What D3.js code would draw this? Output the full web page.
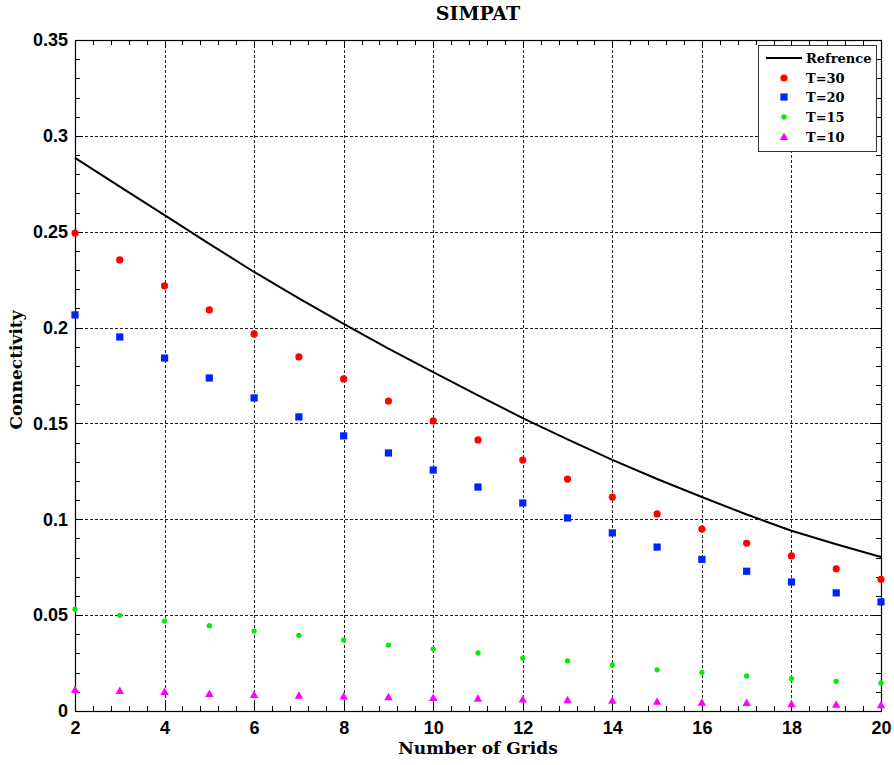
<!DOCTYPE html>
<html>
<head>
<meta charset="utf-8">
<script src="https://cdn.jsdelivr.net/npm/d3@7"></script>
<style>
  html, body { margin: 0; padding: 0; background: #fff; }
  svg { display: block; }
  .tick-label { font-family: "Liberation Sans", Arial, sans-serif; font-weight: bold; font-size: 18px; fill: #000; }
  .serif { font-family: "DejaVu Serif", "Liberation Serif", serif; font-weight: bold; fill: #000; }
</style>
</head>
<body>
<svg id="chart" width="894" height="765"></svg>
<script>
// Number of grids (x values)
const grids = [2, 3, 4, 5, 6, 7, 8, 9, 10, 11, 12, 13, 14, 15, 16, 17, 18, 19, 20];

// Reference connectivity curve
const reference = [0.2885, 0.2735, 0.2587, 0.2437, 0.2290, 0.2152, 0.2019, 0.1890, 0.1768, 0.1646,
                   0.1528, 0.1417, 0.1310, 0.1210, 0.1116, 0.1025, 0.0940, 0.0870, 0.0803];

// Simulated connectivity for each T
const t30 = [0.2493, 0.2353, 0.2217, 0.2092, 0.1967, 0.1847, 0.1732, 0.1617, 0.1513, 0.1414,
             0.1309, 0.1210, 0.1116, 0.1028, 0.0949, 0.0875, 0.0809, 0.0742, 0.0687];
const t20 = [0.2066, 0.1951, 0.1841, 0.1737, 0.1633, 0.1534, 0.1435, 0.1346, 0.1257, 0.1168,
             0.1085, 0.1007, 0.0929, 0.0855, 0.0791, 0.0729, 0.0673, 0.0616, 0.0569];
const t15 = [0.0531, 0.0499, 0.0469, 0.0445, 0.0417, 0.0395, 0.0370, 0.0344, 0.0323, 0.0303,
             0.0276, 0.0261, 0.0240, 0.0215, 0.0202, 0.0183, 0.0169, 0.0155, 0.0146];
const t10 = [0.0110, 0.0104, 0.0099, 0.0089, 0.0083, 0.0080, 0.0076, 0.0072, 0.0068, 0.0064,
             0.0060, 0.0056, 0.0053, 0.0048, 0.0043, 0.0042, 0.0035, 0.0033, 0.0030];

// Tick values
const xTicks = [2, 4, 6, 8, 10, 12, 14, 16, 18, 20];
const yTicks = [0, 0.05, 0.1, 0.15, 0.2, 0.25, 0.3, 0.35];
const yTickLabels = ["0", "0.05", "0.1", "0.15", "0.2", "0.25", "0.3", "0.35"];

const svg = d3.select("#chart");
const pLeft = 75, pRight = 881, pTop = 40, pBottom = 711;

const x = d3.scaleLinear().domain([2, 20]).range([pLeft, pRight]);
const y = d3.scaleLinear().domain([0, 0.35]).range([pBottom, pTop]);

// Grid lines at major ticks
const grid = svg.append("g").attr("stroke", "#222").attr("stroke-width", 1)
  .attr("stroke-dasharray", "3,2").attr("shape-rendering", "crispEdges");
xTicks.slice(1, -1).forEach(v => {
  grid.append("line").attr("x1", Math.round(x(v)) + 0.5).attr("x2", Math.round(x(v)) + 0.5)
    .attr("y1", pTop).attr("y2", pBottom);
});
yTicks.slice(1, -1).forEach(v => {
  grid.append("line").attr("y1", Math.round(y(v)) + 0.5).attr("y2", Math.round(y(v)) + 0.5)
    .attr("x1", pLeft).attr("x2", pRight);
});

// Minor + major ticks on all four sides, pointing inward
const tk = svg.append("g").attr("stroke", "#000").attr("stroke-width", 1).attr("shape-rendering", "crispEdges");
const xMinor = d3.range(2, 20.001, 0.4);
xMinor.forEach(v => {
  const major = Math.abs(v - Math.round(v)) < 1e-6 && Math.round(v) % 2 === 0;
  const len = major ? 8 : 5;
  const px = Math.round(x(v)) + 0.5;
  tk.append("line").attr("x1", px).attr("x2", px).attr("y1", pBottom).attr("y2", pBottom - len);
  tk.append("line").attr("x1", px).attr("x2", px).attr("y1", pTop).attr("y2", pTop + len);
});
const yMinor = d3.range(0, 0.35001, 0.01);
yMinor.forEach((v, i) => {
  const major = i % 5 === 0;
  const len = major ? 8 : 5;
  const py = Math.round(y(v)) + 0.5;
  tk.append("line").attr("y1", py).attr("y2", py).attr("x1", pLeft).attr("x2", pLeft + len);
  tk.append("line").attr("y1", py).attr("y2", py).attr("x1", pRight).attr("x2", pRight - len);
});

// Axes (labels only, frame drawn separately)
const xAxis = d3.axisBottom(x).tickValues(xTicks).tickSize(0).tickPadding(10).tickFormat(d3.format("d"));
const gx = svg.append("g").attr("transform", `translate(0,${pBottom})`).call(xAxis);
gx.select(".domain").remove();
gx.selectAll("text").attr("class", "tick-label").attr("font-size", null).attr("font-family", null);

const yAxis = d3.axisLeft(y).tickValues(yTicks).tickSize(0).tickPadding(7)
  .tickFormat((d, i) => yTickLabels[i]);
const gy = svg.append("g").attr("transform", `translate(${pLeft},0)`).call(yAxis);
gy.select(".domain").remove();
gy.selectAll("text").attr("class", "tick-label").attr("font-size", null).attr("font-family", null);

// Frame
svg.append("rect").attr("x", pLeft + 0.5).attr("y", pTop + 0.5)
  .attr("width", pRight - pLeft).attr("height", pBottom - pTop)
  .attr("fill", "none").attr("stroke", "#000").attr("stroke-width", 1.2);

// Reference line
const line = d3.line().x((d, i) => x(grids[i])).y(d => y(d));
svg.append("path").datum(reference).attr("d", line)
  .attr("fill", "none").attr("stroke", "#000").attr("stroke-width", 2);

// Markers
const pts = svg.append("g");
pts.selectAll(".t30").data(t30).join("circle")
  .attr("cx", (d, i) => x(grids[i])).attr("cy", d => y(d)).attr("r", 3.6).attr("fill", "#ff0000");
pts.selectAll(".t20").data(t20).join("rect")
  .attr("x", (d, i) => x(grids[i]) - 3.6).attr("y", d => y(d) - 3.6)
  .attr("width", 7.2).attr("height", 7.2).attr("fill", "#0022ff");
pts.selectAll(".t15").data(t15).join("path")
  .attr("transform", (d, i) => `translate(${x(grids[i])},${y(d)})`)
  .attr("d", d3.symbol(d3.symbolCircle, 22)()).attr("fill", "#00ee00");
pts.selectAll(".t10").data(t10).join("path")
  .attr("transform", (d, i) => `translate(${x(grids[i])},${y(d)})`)
  .attr("d", "M0,-4.5L4.2,3L-4.2,3Z").attr("fill", "#ff00ff");

// Title and axis titles
svg.append("text").attr("class", "serif").attr("x", 478).attr("y", 20)
  .attr("text-anchor", "middle").attr("font-size", 19).text("SIMPAT");
svg.append("text").attr("class", "serif").attr("x", 478).attr("y", 754)
  .attr("text-anchor", "middle").attr("font-size", 17).text("Number of Grids");
svg.append("text").attr("class", "serif")
  .attr("transform", "translate(22,370) rotate(-90)")
  .attr("text-anchor", "middle").attr("font-size", 17).text("Connectivity");

// Legend
const lg = svg.append("g");
lg.append("rect").attr("x", 758.5).attr("y", 45.5).attr("width", 118).attr("height", 106)
  .attr("fill", "#fff").attr("stroke", "#333").attr("stroke-width", 1);
const legendItems = ["Refrence", "T=30", "T=20", "T=15", "T=10"];
const ly = [58, 78, 97, 117, 137];
const mx = 784;
lg.append("line").attr("x1", 766).attr("x2", 802).attr("y1", ly[0]).attr("y2", ly[0])
  .attr("stroke", "#000").attr("stroke-width", 2);
lg.append("circle").attr("cx", mx).attr("cy", ly[1]).attr("r", 3.6).attr("fill", "#ff0000");
lg.append("rect").attr("x", mx - 3.6).attr("y", ly[2] - 3.6).attr("width", 7.2).attr("height", 7.2).attr("fill", "#0022ff");
lg.append("path").attr("transform", `translate(${mx},${ly[3]})`)
  .attr("d", d3.symbol(d3.symbolCircle, 22)()).attr("fill", "#00ee00");
lg.append("path").attr("transform", `translate(${mx},${ly[4]})`)
  .attr("d", "M0,-4.5L4.2,3L-4.2,3Z").attr("fill", "#ff00ff");
legendItems.forEach((t, i) => {
  lg.append("text").attr("class", "serif").attr("x", 806).attr("y", ly[i] + 5)
    .attr("font-size", 13).text(t);
});
</script>
</body>
</html>
